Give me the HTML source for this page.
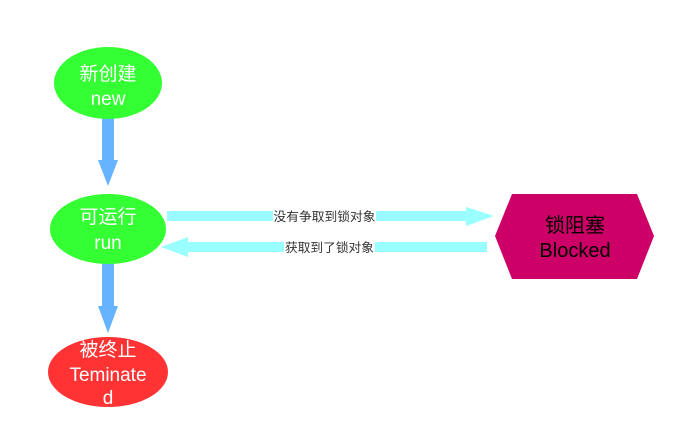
<!DOCTYPE html>
<html><head><meta charset="utf-8"><style>
html,body{margin:0;padding:0;background:#fff;}
svg{display:block;}
text{font-family:"Liberation Sans","Noto Sans CJK SC",sans-serif;}
</style></head><body>
<svg width="688" height="439" viewBox="0 0 688 439" xmlns="http://www.w3.org/2000/svg">
<rect width="688" height="439" fill="#fff"/>
<rect x="102" y="118" width="12" height="44" fill="#66b3ff"/>
<polygon points="98,160 118,160 108,186" fill="#66b3ff"/>
<rect x="102" y="262" width="12" height="46" fill="#66b3ff"/>
<polygon points="98,306 118,306 108,333" fill="#66b3ff"/>
<rect x="167" y="211" width="300" height="10" fill="#99ffff"/>
<polygon points="466,207 494,216 466,226" fill="#99ffff"/>
<rect x="186" y="242" width="301" height="10" fill="#99ffff"/>
<polygon points="188,237 161,247 188,257" fill="#99ffff"/>
<rect x="273" y="208" width="103" height="17" fill="#fff"/>
<text x="324.5" y="221" font-size="12.5" fill="#333" text-anchor="middle" textLength="102" lengthAdjust="spacingAndGlyphs">没有争取到锁对象</text>
<rect x="284" y="239" width="91" height="17" fill="#fff"/>
<text x="329.5" y="252" font-size="12.5" fill="#333" text-anchor="middle" textLength="89" lengthAdjust="spacingAndGlyphs">获取到了锁对象</text>
<ellipse cx="108" cy="83" rx="54" ry="36" fill="#33ff33"/>
<text x="108" y="80" font-size="19" fill="#fff" text-anchor="middle">新创建</text>
<text x="108" y="105" font-size="19" fill="#fff" text-anchor="middle">new</text>
<ellipse cx="108" cy="229" rx="58" ry="35" fill="#33ff33"/>
<text x="108" y="223" font-size="19" fill="#fff" text-anchor="middle">可运行</text>
<text x="108" y="249" font-size="19" fill="#fff" text-anchor="middle">run</text>
<ellipse cx="108" cy="372" rx="60" ry="35" fill="#ff3333"/>
<text x="108" y="356" font-size="19" fill="#fff" text-anchor="middle">被终止</text>
<text x="108" y="381" font-size="19" fill="#fff" text-anchor="middle">Teminate</text>
<text x="108" y="404" font-size="19" fill="#fff" text-anchor="middle">d</text>
<polygon points="495,236 512,194 637,194 654,236 637,279 512,279" fill="#cc0066"/>
<text x="575" y="232" font-size="20" fill="#000" text-anchor="middle">锁阻塞</text>
<text x="575" y="257" font-size="20" fill="#000" text-anchor="middle">Blocked</text>
</svg>
</body></html>
